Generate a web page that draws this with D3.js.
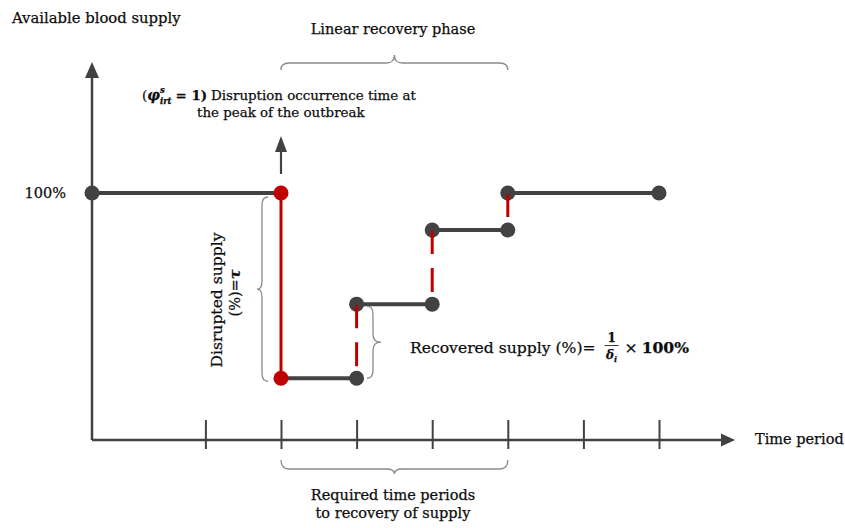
<!DOCTYPE html>
<html><head><meta charset="utf-8">
<script src="https://cdn.jsdelivr.net/npm/d3@7"></script>
<style>
body{margin:0;background:#fff}
text{font-family:"DejaVu Serif",serif;fill:#0d0d0d;white-space:pre;stroke:#0d0d0d;stroke-width:0.25px}
</style>
</head><body>
<svg id="c" width="845" height="528"></svg>
<script>
// ---- data ----
const timeTicks = [1, 2, 3, 4, 5, 6, 7];
const stepStart = [-0.5, 2, 3, 4, 5];
const stepEnd   = [2, 3, 4, 5, 7];
const stepLevel = [100, 25, 55, 85, 100];
const disruptionTime = 2;
const recoveryStart = 2, recoveryEnd = 5;
const valueTickValues = [100];
const valueTickLabels = ["100%"];
const yTitle = "Available blood supply";
const xTitle = "Time period";
const phaseLabel = "Linear recovery phase";
const requiredLabel = ["Required time periods", "to recovery of supply"];
const disruptedLabel = ["Disrupted supply", "(%)="];

// ---- setup ----
const svg = d3.select("#c");
const dark = "#424242", red = "#c00000", braceCol = "#8a8a8a";
const x = d3.scaleLinear().domain([-0.5, 7]).range([92, 659]);
const y = d3.scaleLinear().domain([0, 100]).range([440, 193]);
const x0 = x(-0.5), y0 = y(0);

// axes
const xAxis = svg.append("g").attr("transform", `translate(0,${y0})`)
  .call(d3.axisBottom(x).tickValues(timeTicks).tickSize(9).tickFormat(""));
xAxis.select(".domain").remove();
xAxis.selectAll(".tick line").attr("y1", -20).attr("stroke", dark).attr("stroke-width", 2);

svg.append("line").attr("x1", x0).attr("x2", 724).attr("y1", y0).attr("y2", y0)
  .attr("stroke", dark).attr("stroke-width", 2.5);
svg.append("path").attr("d", `M735,${y0} L721,${y0-6.5} L721,${y0+6.5} Z`).attr("fill", dark);
svg.append("line").attr("x1", x0).attr("x2", x0).attr("y1", y0).attr("y2", 74)
  .attr("stroke", dark).attr("stroke-width", 2.5);
svg.append("path").attr("d", `M${x0},62 L${x0-7},78 L${x0+7},78 Z`).attr("fill", dark);

// axis texts
svg.append("text").attr("x", 12).attr("y", 23).style("font-size", "14.8px").text(yTitle);
svg.append("text").attr("x", 755).attr("y", 444).style("font-size", "14.5px").text(xTitle);
valueTickValues.forEach((v, i) => {
  svg.append("text").attr("x", 66).attr("y", y(v) + 5).attr("text-anchor", "end")
    .style("font-size", "14.5px").text(valueTickLabels[i]);
});

// jumps (vertical)
for (let i = 1; i < stepLevel.length; i++) {
  const t = stepStart[i];
  const from = stepLevel[i - 1], to = stepLevel[i];
  const top = Math.max(from, to), bot = Math.min(from, to);
  const ln = svg.append("line").attr("x1", x(t)).attr("x2", x(t))
    .attr("y1", y(top)).attr("y2", y(bot)).attr("stroke", red).attr("stroke-width", 3);
  if (t !== disruptionTime) ln.attr("stroke-dasharray", "24,14");
}

// horizontal steps
stepLevel.forEach((v, i) => {
  svg.append("line").attr("x1", x(stepStart[i])).attr("x2", x(stepEnd[i]))
    .attr("y1", y(v)).attr("y2", y(v)).attr("stroke", dark).attr("stroke-width", 4);
});
// dots
stepLevel.forEach((v, i) => {
  [stepStart[i], stepEnd[i]].forEach(t => {
    const isRed = t === disruptionTime;
    svg.append("circle").attr("cx", x(t)).attr("cy", y(v)).attr("r", 7.5)
      .attr("fill", isRed ? red : dark);
  });
});
// red mark visible through upper dots of dashed jumps
for (let i = 2; i < stepLevel.length; i++) {
  const t = stepStart[i];
  svg.append("line").attr("x1", x(t)).attr("x2", x(t))
    .attr("y1", y(stepLevel[i]) + 1).attr("y2", y(stepLevel[i]) + 8)
    .attr("stroke", red).attr("stroke-width", 3);
}

// disruption arrow
const xd = x(disruptionTime);
svg.append("line").attr("x1", xd).attr("x2", xd).attr("y1", 174).attr("y2", 148)
  .attr("stroke", dark).attr("stroke-width", 2.2);
svg.append("path").attr("d", `M${xd},136 L${xd-6},152 L${xd+6},152 Z`).attr("fill", dark);

// brace helper
function brace(ax, ay, bx, by, h1, h2, nx, ny) {
  const L = Math.hypot(bx - ax, by - ay);
  const ux = (bx - ax) / L, uy = (by - ay) / L;
  const P = (s, n) => [ax + ux * s + nx * n, ay + uy * s + ny * n];
  const r = 8, m = L / 2;
  const p = d3.path();
  p.moveTo(...P(0, 0));
  p.quadraticCurveTo(...P(0, h1), ...P(r, h1));
  p.lineTo(...P(m - r, h1));
  p.quadraticCurveTo(...P(m, h1), ...P(m, h1 + h2));
  p.moveTo(...P(m, h1 + h2));
  p.quadraticCurveTo(...P(m, h1), ...P(m + r, h1));
  p.lineTo(...P(L - r, h1));
  p.quadraticCurveTo(...P(L, h1), ...P(L, 0));
  svg.append("path").attr("d", p.toString()).attr("fill", "none")
    .attr("stroke", braceCol).attr("stroke-width", 1.3);
}
brace(x(recoveryStart), 70, x(recoveryEnd), 70, 7, 8, 0, -1);
brace(x(recoveryStart), 460, x(recoveryEnd), 460, 9, 5, 0, 1);
brace(268, y(100) + 4, 268, y(25) + 3, 6, 5, -1, 0);
brace(367, y(55) + 2, 367, y(25), 6, 8, 1, 0);

// labels
svg.append("text").attr("x", 393).attr("y", 34).attr("text-anchor", "middle")
  .style("font-size", "14.5px").text(phaseLabel);
requiredLabel.forEach((s, i) => {
  svg.append("text").attr("x", 393).attr("y", 500 + i * 18).attr("text-anchor", "middle")
    .style("font-size", "14.5px").text(s);
});

// text run helper
function runs(g, sx, sy, parts, base) {
  let cx = sx;
  parts.forEach(p => {
    const t = g.append("text").attr("x", cx + (p.dx || 0)).attr("y", sy + (p.dy || 0))
      .style("font-size", (p.size || base || 14.5) + "px")
      .style("font-weight", p.bold ? "bold" : "normal")
      .style("font-style", p.italic ? "italic" : "normal")
      .text(p.t);
    if (p.advance !== false) cx += t.node().getComputedTextLength() + (p.dx || 0) + (p.gap || 0);
  });
  return cx;
}
// disruption annotation
runs(svg, 142, 100, [
  { t: "(" },
  { t: "φ", bold: true, italic: true, size: 14 },
  { t: "s", bold: true, italic: true, size: 8.5, dy: -7, advance: false },
  { t: "irt", bold: true, italic: true, size: 8.5, dy: 4, gap: 4 },
  { t: "= 1)", bold: true, gap: 4 },
  { t: "Disruption occurrence time at" }
], 13.4);
svg.append("text").attr("x", 197).attr("y", 117).style("font-size", "13.4px")
  .text("the peak of the outbreak");

// recovered supply
const ex = runs(svg, 410, 353, [{ t: "Recovered supply (%)=", gap: 9 }], 15.6);
svg.append("text").attr("x", ex + 7).attr("y", 342).attr("text-anchor", "middle")
  .style("font-size", "12px").style("font-weight", "bold").text("1");
svg.append("line").attr("x1", ex).attr("x2", ex + 14).attr("y1", 345.5).attr("y2", 345.5)
  .attr("stroke", "#222").attr("stroke-width", 0.9);
runs(svg, ex + 1.5, 359, [
  { t: "δ", bold: true, italic: true, size: 12 },
  { t: "i", bold: true, italic: true, size: 8, dy: 3 }
]);
runs(svg, ex + 20, 353, [
  { t: "×", size: 15.6, gap: 4 },
  { t: "100%", bold: true, size: 15.6 }
]);

// disrupted supply rotated
const rg = svg.append("g").attr("transform", "translate(222,300) rotate(-90)");
rg.append("text").attr("x", 0).attr("y", 0).attr("text-anchor", "middle")
  .style("font-size", "15.6px").text(disruptedLabel[0]);
const rt = svg.append("g").attr("transform", "translate(240,293) rotate(-90)")
  .append("text").attr("text-anchor", "middle").style("font-size", "14.5px");
rt.append("tspan").text(disruptedLabel[1]);
rt.append("tspan").style("font-weight", "bold").style("font-style", "italic").text("τ");
</script>
</body></html>
